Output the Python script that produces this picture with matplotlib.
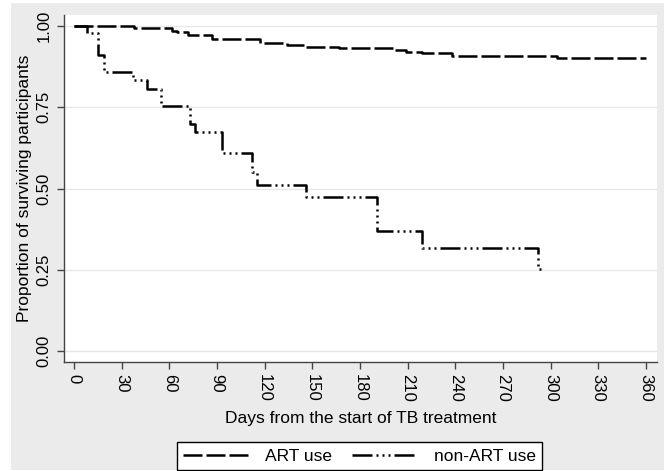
import matplotlib
matplotlib.use('Agg')
import matplotlib.pyplot as plt
from matplotlib.patches import Rectangle

plt.rcParams['font.family'] = ['Liberation Sans', 'DejaVu Sans']

# Kaplan-Meier steps (day, survival)
art_days = [0, 38, 46, 62, 65, 72, 87, 117, 134, 145, 167, 202, 209, 219, 238, 304, 360]
art_surv = [1.0, 0.995, 0.993, 0.985, 0.981, 0.972, 0.960, 0.947, 0.941, 0.936,
            0.931, 0.926, 0.921, 0.916, 0.907, 0.902, 0.902]

nonart_days = [0, 8, 15, 19, 37, 46, 55, 73, 76, 93, 112, 115, 146, 191, 219, 292, 295]
nonart_surv = [1.0, 0.978, 0.910, 0.859, 0.835, 0.806, 0.753, 0.700, 0.674, 0.610,
               0.550, 0.512, 0.473, 0.370, 0.316, 0.253, 0.253]

xticks = list(range(0, 361, 30))
yticks = [0.0, 0.25, 0.5, 0.75, 1.0]
ylabels = ["0.00", "0.25", "0.50", "0.75", "1.00"]

W, H = 668, 471
fig = plt.figure(figsize=(W / 100, H / 100), dpi=100, facecolor='white')
fig.patches.append(Rectangle((11 / W, 1 - 470 / H), (664 - 11) / W, (470 - 3) / H,
                             transform=fig.transFigure, facecolor='#ebebeb',
                             edgecolor='none', zorder=-10))

ax = fig.add_axes([64 / W, 1 - 362 / H, (657 - 64) / W, (362 - 15) / H])
ax.set_facecolor('white')

lw = 1.8
u = 0.72 / lw  # one pixel in dash units
art_line, = ax.step(art_days, art_surv, where='post', color='black', lw=lw)
art_line.set_dashes([19 * u, 4 * u])
non_line, = ax.step(nonart_days, nonart_surv, where='post', color='black', lw=lw)
non_line.set_dashes([20 * u, 4 * u, 2 * u, 4 * u, 2 * u, 4 * u, 2 * u, 4 * u])

ax.set_xlim(-6.3, 367)
ax.set_ylim(-0.034, 1.034)
ax.set_xticks(xticks)
ax.set_xticklabels([str(t) for t in xticks], rotation=-90, fontsize=12)
ax.set_yticks(yticks)
ax.set_yticklabels(ylabels, rotation=90, va='center', fontsize=12)
ax.tick_params(axis='both', direction='out', length=5, width=1, color='#444444', pad=4)
ax.yaxis.grid(True, color='#e8e8e8', lw=1)
ax.set_axisbelow(True)
for s in ['top', 'right']:
    ax.spines[s].set_visible(False)
for s in ['left', 'bottom']:
    ax.spines[s].set_color('#444444')
    ax.spines[s].set_linewidth(1)

ax.set_xlabel("Days from the start of TB treatment", fontsize=12.5, labelpad=6)
ax.set_ylabel("Proportion of surviving participants", fontsize=12.5, labelpad=3)

leg = fig.legend([art_line, non_line], ["ART use", "non-ART use"], ncol=2,
                 loc='center', bbox_to_anchor=(359.5 / W, 1 - 456 / H),
                 fontsize=12.5, frameon=True, fancybox=False, handlelength=3.8,
                 columnspacing=1.2, borderpad=0.35, handletextpad=0.9)
leg.get_frame().set_edgecolor('black')
leg.get_frame().set_linewidth(1)
leg.get_frame().set_alpha(1)

fig.savefig("out.png", dpi=100, facecolor='white')
